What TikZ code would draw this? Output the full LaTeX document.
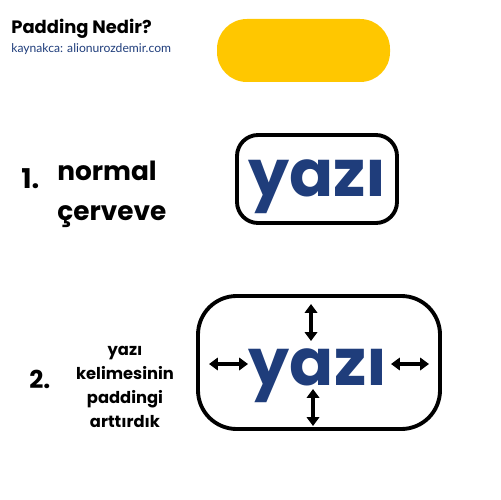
\documentclass[tikz,border=0pt]{standalone}
\usepackage{fontspec}
\setmainfont{Poppins}
\newfontfamily\kaynakfont{Lato}
\usepackage{xcolor}
\usetikzlibrary{arrows.meta,positioning}
\definecolor{yazimavi}{HTML}{1F3D7B}
\definecolor{sari}{HTML}{FFC700}

\begin{document}
\begin{tikzpicture}[x=0.02cm, y=-0.02cm, node distance=0.2cm and 0.2cm, kutu/.style={draw, line width=2.2pt, rounded corners=12pt, inner sep=0pt}, yazi/.style={font=\fontsize{37}{37}\selectfont\bfseries, text=yazimavi, inner sep=0pt}, baslik/.style={font=\bfseries, inner sep=0pt, anchor=base west}, ok/.style={{Triangle[length=5pt,width=7pt]}-{Triangle[length=5pt,width=7pt]}, line width=1.9pt}]
\useasboundingbox (0,0) rectangle (500,500);
% baslik
\node[baslik, font=\fontsize{10.2}{12}\selectfont\bfseries] (title) at (11,34) {Padding Nedir?};
\node[baslik, font=\kaynakfont\fontsize{6.9}{8}\selectfont, text=yazimavi, anchor=base west] (kaynak) at (11,53) {kaynakca: alionurozdemir.com};
\node[fill=sari, rounded corners=17pt, minimum width=173*0.02cm, minimum height=63*0.02cm, inner sep=0pt] (sariKutu) at (303.5,50.5) {};
% 1. normal cerceve
\node[kutu, minimum width=160*0.02cm, minimum height=88*0.02cm] (kutu1) at (317,179) {};
\node[yazi, anchor=base] (yazi1) at (317.5,196) {yazı};
\node[baslik, font=\fontsize{15.5}{17}\selectfont\bfseries] (bir) at (21,188) {1.};
\node[font=\fontsize{15}{20}\selectfont\bfseries, align=left, anchor=north west, inner sep=0pt] (normal) at (57,161) {normal\\[2.5pt]çerveve};
% 2. padding arttirildi
\node[kutu, rounded corners=22pt, minimum width=242*0.02cm, minimum height=133*0.02cm] (kutu2) at (319,362.5) {};
\node[yazi, anchor=base] (yazi2) at (318,385) {yazı};
\node[baslik, font=\fontsize{14}{16}\selectfont\bfseries] (iki) at (29,388) {2.};
\node[font=\fontsize{9.3}{13.6}\selectfont\bfseries, align=center, anchor=north, inner sep=0pt] (aciklama) at (125,346) {yazı\\kelimesinin\\paddingi\\arttırdık};
% oklar
\coordinate (ustA) at (311,304);
\coordinate (ustB) at (311,341);
\coordinate (altA) at (313,389);
\coordinate (altB) at (313,426);
\coordinate (solA) at (209,364);
\coordinate (solB) at (248,364);
\coordinate (sagA) at (391,364);
\coordinate (sagB) at (429,364);
\draw[ok] (ustA) -- (ustB);
\draw[ok] (altA) -- (altB);
\draw[ok] (solA) -- (solB);
\draw[ok] (sagA) -- (sagB);
\end{tikzpicture}
\end{document}
